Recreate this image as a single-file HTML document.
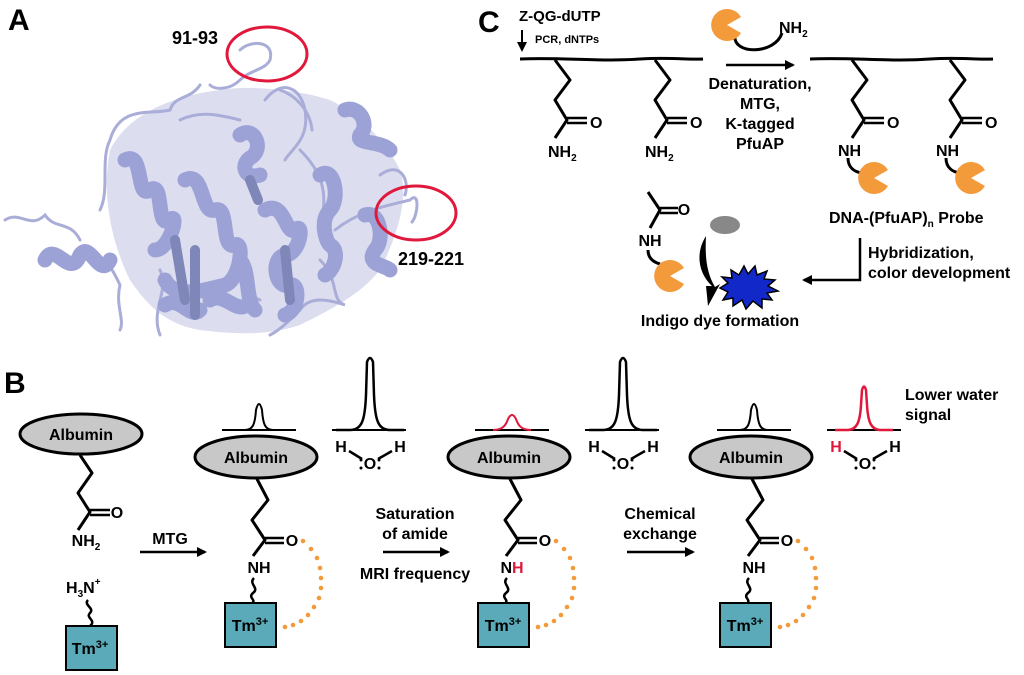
<!DOCTYPE html>
<html><head><style>
html,body{margin:0;padding:0;background:#fff;}
svg{display:block;font-family:"Liberation Sans",Arial,sans-serif;font-weight:bold;}
</style></head><body>
<svg width="1024" height="675" viewBox="0 0 1024 675" xmlns="http://www.w3.org/2000/svg">
<defs>
<marker id="ah" markerWidth="10" markerHeight="10" refX="8" refY="5" orient="auto" markerUnits="userSpaceOnUse">
<path d="M0,0 L10,5 L0,10 Z" fill="#000"/>
</marker>
<g id="pac"><path d="M0,0 L14,-8 A16,16 0 1 0 14,8 Z" fill="#f39a3b"/></g>
</defs>

<!-- Panel A -->
<text x="8" y="30" font-size="30">A</text>
<text x="172" y="44" font-size="18">91-93</text>
<text x="398" y="265" font-size="18">219-221</text>
<path d="M110,150 C130,110 180,95 220,90 C250,85 300,90 330,100 C360,115 385,140 400,170 C410,200 395,240 380,270 C360,295 330,310 300,325 C270,335 240,335 200,330 C170,325 150,310 130,280 C115,250 100,200 110,150 Z" fill="#dcdef0"/>
<g fill="none" stroke="#a9add8" stroke-linecap="round">
  <g stroke-width="3">
    <path d="M5,220 C20,210 30,230 45,215 C55,230 70,220 80,240 M90,260 C105,250 115,275 120,285 C115,305 125,320 120,330"/>
    <path d="M200,85 C190,100 175,95 170,110 C150,115 120,105 110,140 C100,160 110,190 100,210"/>
    <path d="M240,50 C250,40 275,40 270,60 C265,70 250,70 240,80 C230,90 215,90 210,85"/>
    <path d="M265,100 C280,80 300,85 305,110 C310,140 290,150 285,160 M300,150 C320,170 330,190 320,230"/>
    <path d="M335,230 C360,210 390,205 410,200 C420,190 418,215 412,222 M380,175 C400,160 410,180 405,195"/>
    <path d="M320,260 C340,280 330,300 345,305 C330,300 310,295 300,310 C290,320 280,330 270,335"/>
    <path d="M160,270 C170,290 150,310 160,335 M230,240 C245,260 235,290 260,300"/>
    <path d="M280,90 C295,95 310,110 312,130 M180,120 C200,110 220,115 240,120"/>
  </g>
  <g stroke-width="15" stroke="#9da2d6">
    <path d="M45,260 C55,240 70,280 80,255 C90,240 100,280 110,260"/>
    <path d="M125,160 C145,150 135,200 150,190 C165,180 155,230 170,220 C180,210 170,250 155,250"/>
    <path d="M185,180 C205,170 200,215 215,210 C230,205 220,250 235,245 C245,240 240,280 225,285 C205,290 175,300 165,280"/>
    <path d="M210,300 C225,290 240,320 250,300 M165,305 C180,295 190,320 200,310"/>
    <path d="M240,135 C255,125 265,150 250,158 C240,165 245,180 260,175"/>
    <path d="M265,210 C285,200 285,235 295,230 C305,220 300,255 285,255 C270,258 275,290 290,285 C300,282 300,310 285,315"/>
    <path d="M320,175 C335,165 340,200 330,210 C320,220 325,240 330,245 C340,250 335,270 325,275"/>
    <path d="M345,110 C360,105 370,125 360,135 C355,145 380,140 390,150 M365,215 C380,210 385,240 375,250 C365,265 385,265 390,270"/>
    <path d="M240,260 C250,270 245,300 255,310"/>
  </g>
  <g stroke-width="10" stroke="#7f86b8">
    <path d="M175,240 L185,300 M195,250 L195,315 M285,250 L290,300 M250,180 L258,200"/>
  </g>
</g>
<ellipse cx="267" cy="54" rx="40" ry="27" fill="none" stroke="#e0193c" stroke-width="3"/>
<ellipse cx="416" cy="213" rx="40" ry="27" fill="none" stroke="#e0193c" stroke-width="3"/>

<!-- Panel C -->
<text x="478" y="32" font-size="30">C</text>
<text x="519" y="21" font-size="15">Z-QG-dUTP</text>
<line x1="522" y1="30" x2="522" y2="50" stroke="#000" stroke-width="2" marker-end="url(#ah)"/>
<text x="535" y="43" font-size="11">PCR, dNTPs</text>
<g fill="none" stroke="#000" stroke-width="3" stroke-linejoin="round">
  <path d="M520,59 C560,57 600,62 640,59 C670,57 690,60 703,59"/>
  <path d="M555,60 L570,80 L555,100 L567,120 L555,138"/>
  <path d="M567,118 L587,118 M567,123 L587,123" stroke-width="2.5"/>
  <path d="M655,60 L670,80 L655,100 L667,120 L655,138"/>
  <path d="M667,118 L687,118 M667,123 L687,123" stroke-width="2.5"/>
  <path d="M810,59 C850,57 890,62 930,59 C960,57 980,60 993,59"/>
  <path d="M852,60 L867,80 L852,100 L864,120 L852,138"/>
  <path d="M864,118 L884,118 M864,123 L884,123" stroke-width="2.5"/>
  <path d="M950,60 L965,80 L950,100 L962,120 L950,138"/>
  <path d="M962,118 L982,118 M962,123 L982,123" stroke-width="2.5"/>
  <path d="M848,158 C848,168 855,172 862,173"/>
  <path d="M946,158 C946,168 953,172 960,173"/>
  <path d="M735,35 C732,55 775,55 782,33"/>
  <path d="M648,192 L660,210 L650,228"/>
  <path d="M660,208 L678,208 M660,213 L678,213" stroke-width="2.5"/>
  <path d="M648,250 C648,258 653,262 660,264"/>
</g>
<text x="590" y="128" font-size="16">O</text>
<text x="690" y="128" font-size="16">O</text>
<text x="887" y="128" font-size="16">O</text>
<text x="985" y="128" font-size="16">O</text>
<text x="548" y="157" font-size="16">NH<tspan font-size="10" dy="4">2</tspan></text>
<text x="645" y="157" font-size="16">NH<tspan font-size="10" dy="4">2</tspan></text>
<text x="838" y="156" font-size="16">NH</text>
<text x="936" y="156" font-size="16">NH</text>
<use href="#pac" x="727" y="25"/>
<text x="779" y="33" font-size="16">NH<tspan font-size="10" dy="4">2</tspan></text>
<line x1="726" y1="65" x2="793" y2="65" stroke="#000" stroke-width="2.5" marker-end="url(#ah)"/>
<g font-size="16" text-anchor="middle">
<text x="760" y="89">Denaturation,</text>
<text x="760" y="109">MTG,</text>
<text x="760" y="129">K-tagged</text>
<text x="760" y="149">PfuAP</text>
</g>
<use href="#pac" x="874" y="178"/>
<use href="#pac" x="971" y="178"/>
<text x="829" y="223" font-size="16">DNA-(PfuAP)<tspan font-size="10" dy="4">n</tspan><tspan dy="-4"> Probe</tspan></text>
<path d="M860,238 L860,280 L804,280" fill="none" stroke="#000" stroke-width="2.5" marker-end="url(#ah)"/>
<text x="868" y="258" font-size="16">Hybridization,</text>
<text x="868" y="278" font-size="16">color development</text>
<text x="684" y="215" font-size="16" text-anchor="middle">O</text>
<text x="650" y="246" font-size="16" text-anchor="middle">NH</text>
<use href="#pac" x="670" y="276"/>
<ellipse cx="725" cy="225" rx="15" ry="9" fill="#888"/>
<path d="M706,236 C694,255 700,275 712,286 L706,286 L708,306 L720,284 L715,287 C706,272 705,255 706,236 Z" fill="#000"/>
<polygon points="720,288 728,283 722,277 732,278 731,270 739,275 744,266 748,274 755,266 757,275 767,271 764,279 775,280 768,286 778,291 767,293 772,300 762,299 762,308 753,301 746,309 742,300 733,306 733,298 723,300 728,292" fill="#1228c8" stroke="#000" stroke-width="1.5"/>
<text x="720" y="326" font-size="16" text-anchor="middle">Indigo dye formation</text>

<!-- Panel B -->
<text x="4" y="393" font-size="30">B</text>
<g stroke="#000" stroke-width="3" fill="none" stroke-linejoin="round">
  <ellipse cx="81" cy="434" rx="61" ry="20" fill="#c8c8c8"/>
  <path d="M80,455 L92,473 L78,493 L90,512 L78,530"/>
  <path d="M90,510 L110,510 M90,515 L110,515" stroke-width="2.5"/>
  <path d="M88,600 C83,605 95,608 90,613 C85,618 97,620 90,626" stroke-width="2.5"/>
</g>
<g font-size="16" text-anchor="middle">
<text x="81" y="440">Albumin</text>
<text x="117" y="518">O</text>
<text x="86" y="546">NH<tspan font-size="10" dy="4">2</tspan></text>
</g>
<text x="66" y="593" font-size="16">H<tspan font-size="10" dy="4">3</tspan><tspan dy="-4">N</tspan><tspan font-size="10" dy="-8">+</tspan></text>
<rect x="66" y="626" width="51" height="44" fill="#5aaab9" stroke="#000" stroke-width="2"/>
<text x="90" y="654" font-size="16" text-anchor="middle">Tm<tspan font-size="11" dy="-6">3+</tspan></text>

<line x1="140" y1="552" x2="205" y2="552" stroke="#000" stroke-width="2.5" marker-end="url(#ah)"/>
<text x="170" y="544" font-size="16" text-anchor="middle">MTG</text>
<line x1="383" y1="552" x2="448" y2="552" stroke="#000" stroke-width="2.5" marker-end="url(#ah)"/>
<text x="415" y="519" font-size="16" text-anchor="middle">Saturation</text>
<text x="415" y="539" font-size="16" text-anchor="middle">of amide</text>
<text x="415" y="579" font-size="16" text-anchor="middle">MRI frequency</text>
<line x1="627" y1="552" x2="693" y2="552" stroke="#000" stroke-width="2.5" marker-end="url(#ah)"/>
<text x="660" y="519" font-size="16" text-anchor="middle">Chemical</text>
<text x="660" y="539" font-size="16" text-anchor="middle">exchange</text>
<text x="905" y="400" font-size="16">Lower water</text>
<text x="905" y="420" font-size="16">signal</text>

<!-- panel 2 -->
<g>
<g stroke="#000" stroke-width="3" fill="none" stroke-linejoin="round">
  <ellipse cx="256" cy="457" rx="61" ry="21" fill="#c8c8c8"/>
  <path d="M257,479 L268,500 L252,520 L265,540 L253,556"/>
  <path d="M265,538 L284,538 M265,543 L284,543" stroke-width="2.5"/>
  <path d="M254,578 C248,584 260,588 253,593 C247,598 258,600 251,604" stroke-width="2.5"/>
  <line x1="332" y1="430" x2="406" y2="430" stroke-width="2"/>
  <line x1="222" y1="430" x2="296" y2="430" stroke-width="2"/>
  <path d="M336,430 L350,430 C362,430 365,420 366,395 L367,362 Q370,354 373,362 L374,395 C375,420 378,430 390,430 L404,430" stroke-width="2.5"/>
  <path d="M245,430 C253,430 255,424 256,410 Q259,398 262,410 C263,424 265,430 273,430" stroke-width="2"/>
  <path d="M349,451 L362,459 M378,459 L392,451" stroke-width="2.5"/>
</g>
<rect x="225" y="603" width="51" height="44" fill="#5aaab9" stroke="#000" stroke-width="2"/>
<g font-size="16" text-anchor="middle">
<text x="256" y="463">Albumin</text>
<text x="292" y="546">O</text>
<text x="250" y="631">Tm<tspan font-size="11" dy="-6">3+</tspan></text>
<text x="341" y="452">H</text>
<text x="400" y="452">H</text>
<text x="370" y="469">O</text>
<text x="259" y="573">NH</text>
</g>
<g fill="#000"><circle cx="361" cy="460" r="1.5"/><circle cx="361" cy="468" r="1.5"/><circle cx="379" cy="460" r="1.5"/><circle cx="379" cy="468" r="1.5"/></g>
<g fill="#f39a3b">
<circle cx="303" cy="541" r="2.3"/><circle cx="311" cy="549" r="2.3"/><circle cx="317" cy="558" r="2.3"/><circle cx="320" cy="568" r="2.3"/><circle cx="321" cy="578" r="2.3"/><circle cx="321" cy="588" r="2.3"/><circle cx="319" cy="598" r="2.3"/><circle cx="314" cy="607" r="2.3"/><circle cx="308" cy="615" r="2.3"/><circle cx="301" cy="621" r="2.3"/><circle cx="293" cy="625" r="2.3"/><circle cx="285" cy="627" r="2.3"/>
</g>
</g>

<!-- panel 3 -->
<g transform="translate(253,0)">
<g stroke="#000" stroke-width="3" fill="none" stroke-linejoin="round">
  <ellipse cx="256" cy="457" rx="61" ry="21" fill="#c8c8c8"/>
  <path d="M257,479 L268,500 L252,520 L265,540 L253,556"/>
  <path d="M265,538 L284,538 M265,543 L284,543" stroke-width="2.5"/>
  <path d="M254,578 C248,584 260,588 253,593 C247,598 258,600 251,604" stroke-width="2.5"/>
  <line x1="332" y1="430" x2="406" y2="430" stroke-width="2"/>
  <line x1="222" y1="430" x2="296" y2="430" stroke-width="2"/>
  <path d="M336,430 L350,430 C362,430 365,420 366,395 L367,362 Q370,354 373,362 L374,395 C375,420 378,430 390,430 L404,430" stroke-width="2.5"/>
  <path d="M240,430 C250,430 253,425 255,419 Q259,411 263,419 C265,425 268,430 278,430" stroke-width="2" stroke="#e0193c"/>
  <path d="M349,451 L362,459 M378,459 L392,451" stroke-width="2.5"/>
</g>
<rect x="225" y="603" width="51" height="44" fill="#5aaab9" stroke="#000" stroke-width="2"/>
<g font-size="16" text-anchor="middle">
<text x="256" y="463">Albumin</text>
<text x="292" y="546">O</text>
<text x="250" y="631">Tm<tspan font-size="11" dy="-6">3+</tspan></text>
<text x="341" y="452">H</text>
<text x="400" y="452">H</text>
<text x="370" y="469">O</text>
<text x="259" y="573">N<tspan fill="#e0193c">H</tspan></text>
</g>
<g fill="#000"><circle cx="361" cy="460" r="1.5"/><circle cx="361" cy="468" r="1.5"/><circle cx="379" cy="460" r="1.5"/><circle cx="379" cy="468" r="1.5"/></g>
<g fill="#f39a3b">
<circle cx="303" cy="541" r="2.3"/><circle cx="311" cy="549" r="2.3"/><circle cx="317" cy="558" r="2.3"/><circle cx="320" cy="568" r="2.3"/><circle cx="321" cy="578" r="2.3"/><circle cx="321" cy="588" r="2.3"/><circle cx="319" cy="598" r="2.3"/><circle cx="314" cy="607" r="2.3"/><circle cx="308" cy="615" r="2.3"/><circle cx="301" cy="621" r="2.3"/><circle cx="293" cy="625" r="2.3"/><circle cx="285" cy="627" r="2.3"/>
</g>
</g>

<!-- panel 4 -->
<g transform="translate(495,0)">
<g stroke="#000" stroke-width="3" fill="none" stroke-linejoin="round">
  <ellipse cx="256" cy="457" rx="61" ry="21" fill="#c8c8c8"/>
  <path d="M257,479 L268,500 L252,520 L265,540 L253,556"/>
  <path d="M265,538 L284,538 M265,543 L284,543" stroke-width="2.5"/>
  <path d="M254,578 C248,584 260,588 253,593 C247,598 258,600 251,604" stroke-width="2.5"/>
  <line x1="332" y1="430" x2="406" y2="430" stroke-width="2"/>
  <line x1="222" y1="430" x2="296" y2="430" stroke-width="2"/>
  <path d="M340,430 L352,430 C362,430 365,422 366,405 L367,390 Q369,383 371,390 L372,405 C373,422 376,430 386,430 L398,430" stroke-width="2.5" stroke="#e0193c"/>
  <path d="M245,430 C253,430 255,424 256,410 Q259,398 262,410 C263,424 265,430 273,430" stroke-width="2"/>
  <path d="M349,451 L362,459 M378,459 L392,451" stroke-width="2.5"/>
</g>
<rect x="225" y="603" width="51" height="44" fill="#5aaab9" stroke="#000" stroke-width="2"/>
<g font-size="16" text-anchor="middle">
<text x="256" y="463">Albumin</text>
<text x="292" y="546">O</text>
<text x="250" y="631">Tm<tspan font-size="11" dy="-6">3+</tspan></text>
<text x="341" y="452" fill="#e0193c">H</text>
<text x="400" y="452">H</text>
<text x="370" y="469">O</text>
<text x="259" y="573">NH</text>
</g>
<g fill="#000"><circle cx="361" cy="460" r="1.5"/><circle cx="361" cy="468" r="1.5"/><circle cx="379" cy="460" r="1.5"/><circle cx="379" cy="468" r="1.5"/></g>
<g fill="#f39a3b">
<circle cx="303" cy="541" r="2.3"/><circle cx="311" cy="549" r="2.3"/><circle cx="317" cy="558" r="2.3"/><circle cx="320" cy="568" r="2.3"/><circle cx="321" cy="578" r="2.3"/><circle cx="321" cy="588" r="2.3"/><circle cx="319" cy="598" r="2.3"/><circle cx="314" cy="607" r="2.3"/><circle cx="308" cy="615" r="2.3"/><circle cx="301" cy="621" r="2.3"/><circle cx="293" cy="625" r="2.3"/><circle cx="285" cy="627" r="2.3"/>
</g>
</g>
</svg>
</body></html>
